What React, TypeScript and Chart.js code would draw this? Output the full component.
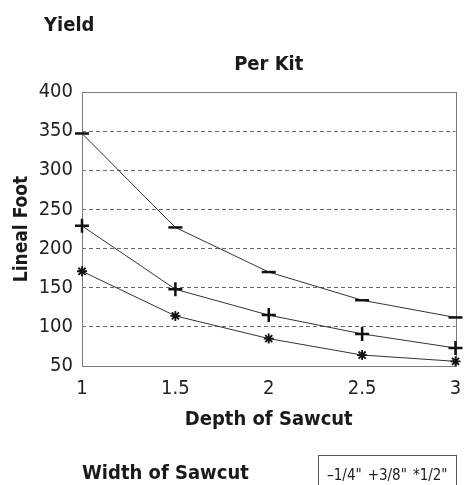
import React, { useEffect, useRef } from "react";
import { Chart, registerables } from "chart.js";
Chart.register(...registerables);

const depths = [1, 1.5, 2, 2.5, 3];
const quarterInch = [347, 227, 170, 134, 112];
const threeEighthsInch = [229, 148, 115, 91, 73];
const halfInch = [171, 114, 85, 64, 56];
const seriesLabels = ['1/4"', '3/8"', '1/2"'];
const seriesMarks = ["\u2013", "+", "*"];

const FONT = "'Liberation Sans Narrow', 'DejaVu Sans Condensed', 'Roboto Condensed', sans-serif";

const framePlugin = {
  id: "frame",
  beforeDatasetsDraw(chart: any) {
    const { ctx, chartArea } = chart;
    ctx.save();
    ctx.strokeStyle = "#7a7a7a";
    ctx.lineWidth = 1;
    ctx.strokeRect(
      Math.round(chartArea.left) + 0.5,
      Math.round(chartArea.top) + 0.5,
      Math.round(chartArea.right - chartArea.left),
      Math.round(chartArea.bottom - chartArea.top)
    );
    ctx.restore();
  },
};

export default function App() {
  const ref = useRef<HTMLCanvasElement | null>(null);
  useEffect(() => {
    if (!ref.current) return;
    const mk = (vals: number[]) => depths.map((x, i) => ({ x, y: vals[i] }));
    const common = {
      borderColor: "#333",
      borderWidth: 1,
      pointBorderColor: "#111",
      pointBackgroundColor: "#111",
      clip: false,
    };
    const chart = new Chart(ref.current, {
      type: "line",
      data: {
        datasets: [
          { ...common, label: seriesLabels[0], data: mk(quarterInch), pointStyle: "line", pointRadius: 7, pointBorderWidth: 2.5 },
          { ...common, label: seriesLabels[1], data: mk(threeEighthsInch), pointStyle: "cross", pointRadius: 7, pointBorderWidth: 2.5 },
          { ...common, label: seriesLabels[2], data: mk(halfInch), pointStyle: "star", pointRadius: 5, pointBorderWidth: 1.8 },
        ],
      },
      options: {
        responsive: false,
        animation: false,
        layout: { padding: { top: 0, right: 0, bottom: 0, left: 0 } },
        plugins: {
          legend: { display: false },
          tooltip: { enabled: false },
          title: {
            display: true,
            fullSize: false,
            text: "Per Kit",
            color: "#1a1a1a",
            font: { family: FONT, size: 20, weight: "bold", lineHeight: 1.2 },
            padding: { top: 53, bottom: 15 },
          },
        },
        scales: {
          x: {
            type: "linear",
            min: 1,
            max: 3,
            ticks: {
              stepSize: 0.5,
              color: "#222",
              font: { family: FONT, size: 20 },
              padding: 11,
              callback: (v: any) => String(v),
            },
            grid: { display: false, drawTicks: false },
            border: { display: false },
            title: {
              display: true,
              text: "Depth of Sawcut",
              color: "#1a1a1a",
              font: { family: FONT, size: 20, weight: "bold", lineHeight: 1.2 },
              padding: { top: 0, bottom: 53 },
            },
            afterFit(scale: any) {
              scale.height = 119;
              scale.paddingRight = 8;
              scale.paddingLeft = 0;
            },
          },
          y: {
            min: 50,
            max: 400,
            ticks: {
              stepSize: 50,
              color: "#222",
              font: { family: FONT, size: 20 },
              padding: 9,
            },
            grid: {
              drawTicks: false,
              color: (c: any) =>
                c.tick && (c.tick.value === 50 || c.tick.value === 400) ? "rgba(0,0,0,0)" : "#6a6a6a",
              lineWidth: 1,
            },
            border: { display: false, dash: [4, 3] },
            title: {
              display: true,
              text: "Lineal Foot",
              color: "#1a1a1a",
              font: { family: FONT, size: 19, weight: "bold", lineHeight: 1.2 },
              padding: { top: 11, bottom: 0 },
            },
            afterFit(scale: any) {
              scale.width = 82;
            },
          },
        },
      },
      plugins: [framePlugin],
    } as any);
    return () => chart.destroy();
  }, []);

  const bold = { fontFamily: FONT, fontWeight: "bold" as const, fontSize: 20, color: "#1a1a1a", position: "absolute" as const, lineHeight: "24px", whiteSpace: "nowrap" as const };
  return (
    <div style={{ position: "fixed", left: 0, top: 0, width: 465, height: 485, background: "#fff", overflow: "hidden" }}>
      <canvas ref={ref} width={465} height={485} style={{ position: "absolute", left: 0, top: 0, width: 465, height: 485 }} />
      <div style={{ ...bold, left: 44, top: 12 }}>Yield</div>
      <div style={{ ...bold, left: 82, top: 460 }}>Width of Sawcut</div>
      <div
        style={{
          position: "absolute",
          left: 318,
          top: 455,
          width: 139,
          height: 40,
          border: "1px solid #555",
          boxSizing: "border-box",
          fontFamily: FONT,
          fontSize: 15,
          color: "#222",
          paddingLeft: 8,
          paddingTop: 10,
          whiteSpace: "nowrap",
        }}
      >
        {seriesLabels.map((l, i) => (
          <span key={l} style={{ marginRight: 6 }}>
            {seriesMarks[i]}
            {l}
          </span>
        ))}
      </div>
    </div>
  );
}
